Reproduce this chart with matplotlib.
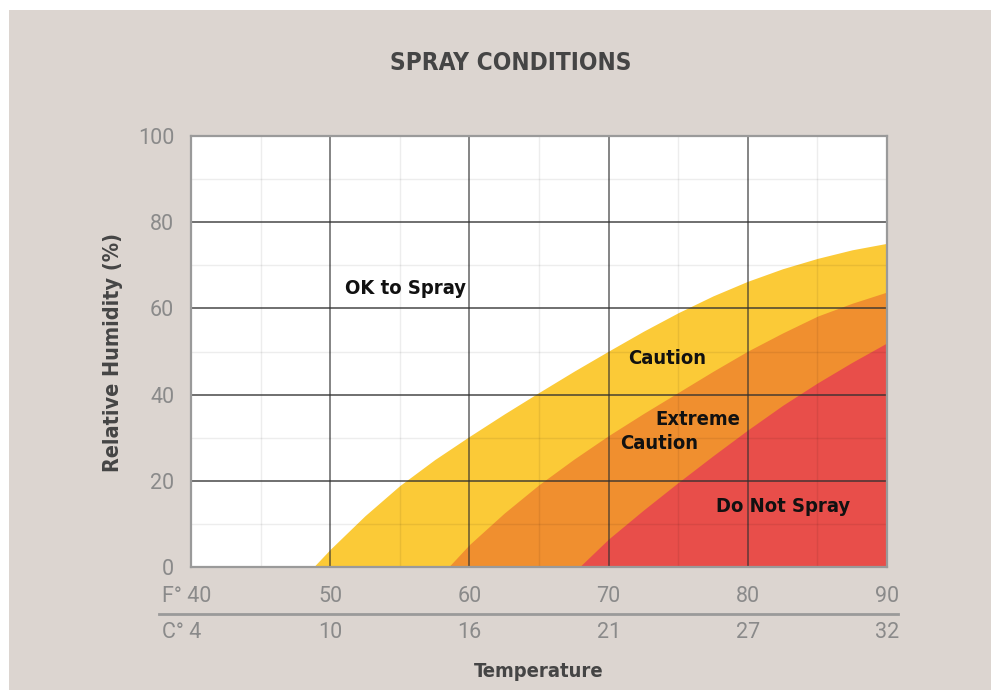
import matplotlib
matplotlib.use("Agg")
import matplotlib.pyplot as plt
from matplotlib.patches import Rectangle
from matplotlib.lines import Line2D

# ---- data ----
title = "SPRAY CONDITIONS"
x_label = "Temperature"
y_label = "Relative Humidity (%)"

f_ticks = [40, 50, 60, 70, 80, 90]
c_ticks = [4, 10, 16, 21, 27, 32]
y_ticks = [0, 20, 40, 60, 80, 100]

# upper boundary of "Caution" (yellow) zone
caution_temp = [48.8, 50, 52.5, 55, 57.5, 60, 62.5, 65, 67.5, 70, 72.5, 75, 77.5, 80, 82.5, 85, 87.5, 90]
caution_rh = [0, 4.1, 11.9, 18.9, 24.9, 30.3, 35.5, 40.5, 45.4, 50.1, 54.7, 59.0, 62.9, 66.3, 69.2, 71.6, 73.6, 75.1]

# upper boundary of "Extreme Caution" (orange) zone
extreme_temp = [58.5, 60, 62.5, 65, 67.5, 70, 72.5, 75, 77.5, 80, 82.5, 85, 87.5, 90]
extreme_rh = [0, 5.2, 12.5, 19.1, 25.0, 30.5, 35.6, 40.5, 45.4, 50.1, 54.3, 58.2, 61.2, 63.8]

# upper boundary of "Do Not Spray" (red) zone
nospray_temp = [67.9, 70, 72.5, 75, 77.5, 80, 82.5, 85, 87.5, 90]
nospray_rh = [0, 6.5, 13.2, 19.6, 25.8, 31.8, 37.5, 42.7, 47.5, 52.0]

zone_labels = ["OK to Spray", "Caution", "Extreme", "Caution", "Do Not Spray"]
zone_label_pos = [(55.4, 64.7), (74.2, 48.3), (76.4, 34.2), (73.6, 28.6), (82.5, 14.0)]

# ---- style ----
BG = "#DCD5D0"
YELLOW = "#FBCA37"
ORANGE = "#F08F2F"
RED = "#E84E4A"
TICK_C = "#8A8A8A"
DARK = "#454545"
COND = dict(family="DejaVu Sans", fontweight="bold", fontstretch="condensed")
TICKFONT = dict(fontsize=15.5, color=TICK_C, family="Roboto", fontweight="normal")

fig = plt.figure(figsize=(9.91, 6.90), dpi=100)
fig.patch.set_facecolor("white")
fig.add_artist(Rectangle((9 / 991, 0), 1 - 9 / 991, 1 - 10 / 690,
                         transform=fig.transFigure, facecolor=BG, edgecolor="none", zorder=-10))

ax = fig.add_axes([191 / 991, 1 - 567 / 690, 696 / 991, 431 / 690])
ax.set_facecolor("white")
ax.set_xlim(40, 90)
ax.set_ylim(0, 100)

ax.fill_between(caution_temp, 0, caution_rh, color=YELLOW, lw=0, zorder=1)
ax.fill_between(extreme_temp, 0, extreme_rh, color=ORANGE, lw=0, zorder=2)
ax.fill_between(nospray_temp, 0, nospray_rh, color=RED, lw=0, zorder=3)

# grid
for v in range(45, 90, 5):
    if v % 10 == 0:
        ax.axvline(v, color="#303030", lw=1.1, alpha=0.75, zorder=5)
    else:
        ax.axvline(v, color="#000000", lw=1.0, alpha=0.07, zorder=5)
for h in range(10, 100, 10):
    if h % 20 == 0:
        ax.axhline(h, color="#303030", lw=1.3, alpha=0.75, zorder=5)
    else:
        ax.axhline(h, color="#000000", lw=1.0, alpha=0.07, zorder=5)

for s in ax.spines.values():
    s.set_color("#9A9A9A")
    s.set_linewidth(1.6)
    s.set_zorder(6)

ax.set_xticks([])
ax.set_yticks(y_ticks)
ax.set_yticklabels([str(t) for t in y_ticks], **TICKFONT)
ax.tick_params(axis="y", length=0, pad=12)

# temperature scales
for i, (f, c) in enumerate(zip(f_ticks, c_ticks)):
    if i == 0:
        ax.text(37.9, -6.9, f"F° {f}", ha="left", va="center", clip_on=False, **TICKFONT)
        ax.text(37.9, -15.1, f"C° {c}", ha="left", va="center", clip_on=False, **TICKFONT)
    else:
        ax.text(f, -6.9, str(f), ha="center", va="center", clip_on=False, **TICKFONT)
        ax.text(f, -15.1, str(c), ha="center", va="center", clip_on=False, **TICKFONT)
ax.add_line(Line2D([37.7, 90.8], [-10.8, -10.8], color="#9A9A9A", lw=2, clip_on=False))

ax.text(65, -24.2, x_label, ha="center", va="center", fontsize=14.5, color=DARK,
        clip_on=False, **COND)
fig.text(113 / 991, 1 - 353 / 690, y_label, rotation=90, ha="center", va="center",
         fontsize=15.5, color=DARK, **COND)
fig.text(511 / 991, 1 - 63 / 690, title, ha="center", va="center", fontsize=17.5,
         color=DARK, **COND)

for lab, (x, y) in zip(zone_labels, zone_label_pos):
    ax.text(x, y, lab, ha="center", va="center", fontsize=14.5, color="#111111",
            zorder=8, **COND)

fig.savefig("out.png", dpi=100, facecolor=fig.get_facecolor())
